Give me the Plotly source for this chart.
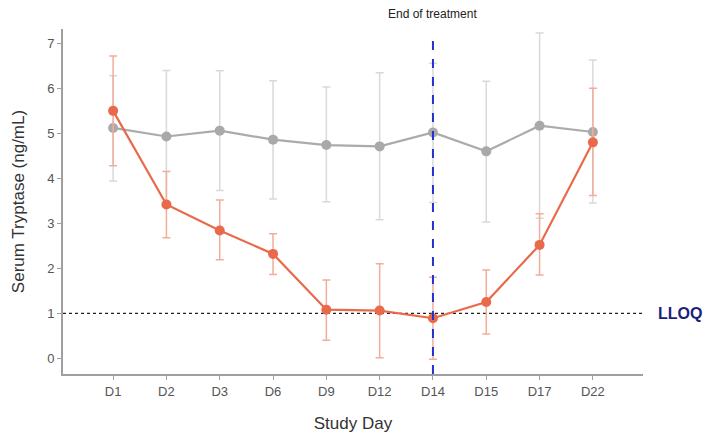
import plotly.graph_objects as go

days = ["D1", "D2", "D3", "D6", "D9", "D12", "D14", "D15", "D17", "D22"]

placebo_mean = [5.12, 4.93, 5.06, 4.86, 4.74, 4.71, 5.02, 4.60, 5.17, 5.03]
placebo_upper = [6.28, 6.40, 6.39, 6.17, 6.03, 6.35, 6.56, 6.16, 7.23, 6.63]
placebo_lower = [3.94, 3.46, 3.73, 3.54, 3.48, 3.08, 3.46, 3.03, 3.11, 3.45]

treat_mean = [5.50, 3.42, 2.84, 2.32, 1.08, 1.06, 0.89, 1.25, 2.52, 4.80]
treat_upper = [6.72, 4.15, 3.52, 2.77, 1.74, 2.10, 1.80, 1.96, 3.21, 6.00]
treat_lower = [4.28, 2.68, 2.19, 1.86, 0.40, 0.01, -0.02, 0.54, 1.85, 3.62]

lloq = 1.0
eot_day = "D14"

def err(mean, up, lo):
    plus = [u - m for u, m in zip(up, mean)]
    minus = [m - l for m, l in zip(mean, lo)]
    return dict(type="data", symmetric=False, array=plus, arrayminus=minus,
                thickness=1.5, width=4)

fig = go.Figure()

e1 = err(placebo_mean, placebo_upper, placebo_lower)
e1["color"] = "#d9d9d9"
fig.add_trace(go.Scatter(
    x=days, y=placebo_mean, mode="lines+markers",
    line=dict(color="#ababab", width=2.2),
    marker=dict(color="#a9a9a9", size=10),
    error_y=e1, showlegend=False))

e2 = err(treat_mean, treat_upper, treat_lower)
e2["color"] = "#f2ad9b"
fig.add_trace(go.Scatter(
    x=days, y=treat_mean, mode="lines+markers",
    line=dict(color="#e9694b", width=2.2),
    marker=dict(color="#e9694b", size=10),
    error_y=e2, showlegend=False))

# LLOQ line
fig.add_shape(type="line", xref="paper", yref="y", x0=0, x1=1, y0=lloq, y1=lloq,
              line=dict(color="#222222", width=1.2, dash="dot"), layer="below")
# End of treatment line
fig.add_shape(type="line", xref="x", yref="paper", x0=eot_day, x1=eot_day, y0=0, y1=0.99,
              line=dict(color="#2233cc", width=2, dash="dash"))

fig.add_annotation(x=eot_day, xref="x", y=1.043, yref="paper", text="End of treatment",
                   showarrow=False, font=dict(family="Liberation Sans, Arial", size=12, color="#222222"),
                   xanchor="center", yanchor="middle")
fig.add_annotation(x=1.022, xref="paper", y=lloq, yref="y", text="<b>LLOQ</b>",
                   showarrow=False, font=dict(family="Liberation Sans, Arial", size=16, color="#1a1f7a"),
                   xanchor="left", yanchor="middle")

fig.update_layout(
    width=705, height=425,
    margin=dict(l=55, r=70, t=21, b=59),
    paper_bgcolor="white", plot_bgcolor="white",
    font=dict(family="Liberation Sans, Arial", color="#555555", size=12),
    xaxis=dict(type="category", categoryorder="array", categoryarray=days,
               range=[-0.94, 9.94], showgrid=False, zeroline=False, automargin=False,
               showline=True, linecolor="#a0a0a0", linewidth=2,
               ticks="outside", ticklen=4, tickcolor="#a0a0a0", tickwidth=1,
               tickfont=dict(size=13, color="#555555"),
               title=dict(text="Study Day", font=dict(size=17, color="#333333"), standoff=22)),
    yaxis=dict(range=[-0.35, 7.32], dtick=1, showgrid=False, zeroline=False, automargin=False,
               showline=True, linecolor="#a0a0a0", linewidth=2,
               ticks="outside", ticklen=4, tickcolor="#a0a0a0", tickwidth=1,
               tickfont=dict(size=13, color="#555555"),
               title=dict(text="Serum Tryptase (ng/mL)", font=dict(size=17, color="#333333"), standoff=18)),
)

fig.write_html("out.html")
